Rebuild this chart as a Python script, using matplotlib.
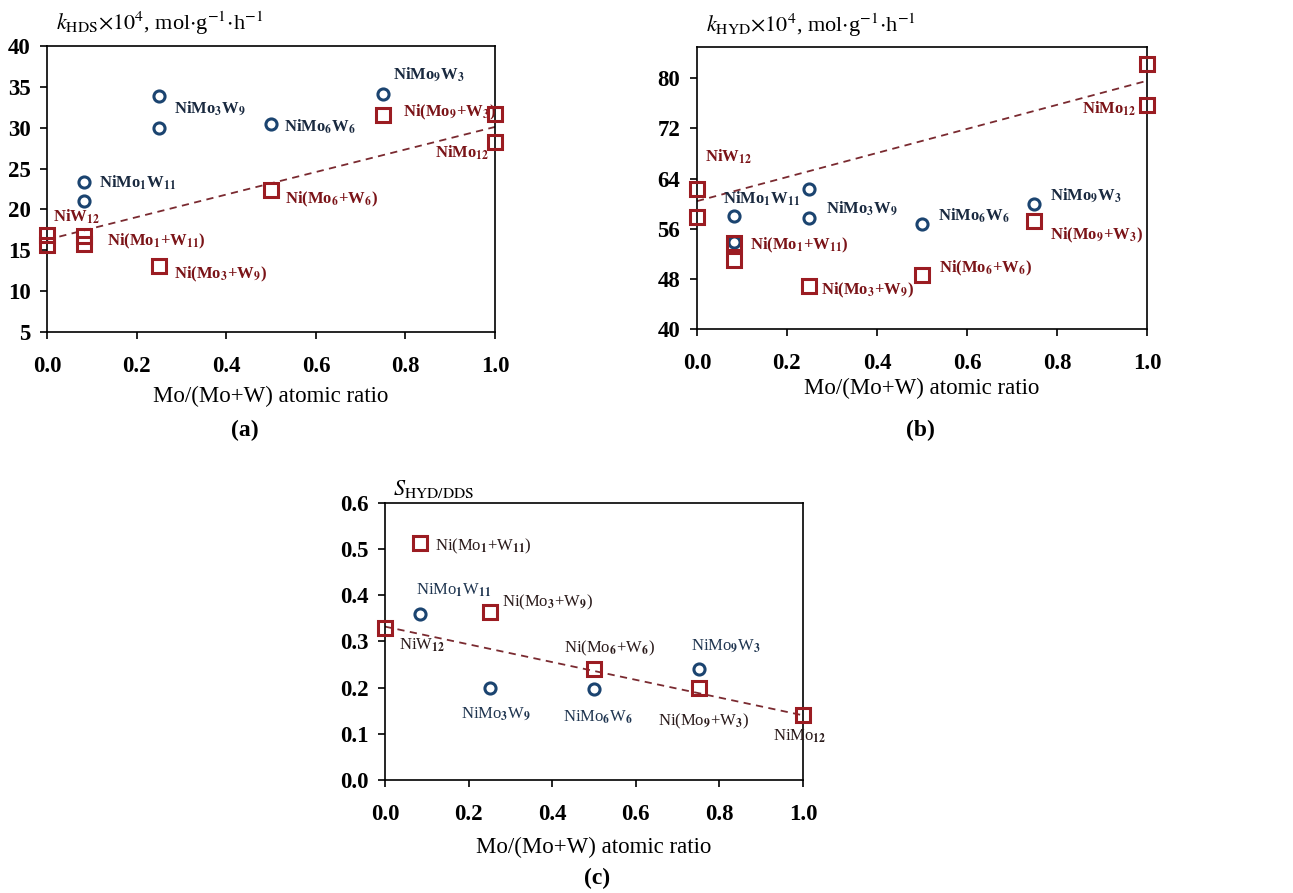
import matplotlib
matplotlib.use("Agg")
import matplotlib.pyplot as plt
import numpy as np

plt.rcParams['font.family'] = ['Liberation Serif', 'DejaVu Serif']
plt.rcParams['mathtext.fontset'] = 'stix'

# Mo/(Mo+W) atomic ratio
x_circ = [0.083, 0.083, 0.25, 0.25, 0.5, 0.75]
x_sq = [0.0, 0.0, 0.083, 0.083, 0.25, 0.5, 0.75, 1.0, 1.0]

# (a) kHDS x 1e4
hds_circ = [23.3, 21.0, 33.9, 30.0, 30.5, 34.1]
hds_sq = [16.9, 15.7, 16.7, 15.8, 13.1, 22.4, 31.5, 31.7, 28.3]
hds_fit = [16.3, 30.1]

# (b) kHYD x 1e4
hyd_circ = [58.1, 53.8, 62.4, 57.7, 56.7, 60.0]
hyd_sq = [62.4, 57.8, 53.7, 51.0, 46.9, 48.6, 57.2, 82.3, 75.7]
hyd_fit = [60.4, 79.6]

# (c) selectivity HYD/DDS
x_c_circ = [0.083, 0.25, 0.5, 0.75]
s_circ = [0.36, 0.20, 0.198, 0.24]
x_c_sq = [0.0, 0.083, 0.25, 0.5, 0.75, 1.0]
s_sq = [0.33, 0.513, 0.364, 0.24, 0.20, 0.14]
s_fit = [0.332, 0.14]

# labels: (text, x, y, is_square_series)
labels_a = [
    (r'NiMo$_\mathbf{9}$W$_\mathbf{3}$', 0.772, 36.4, False),
    (r'NiMo$_\mathbf{3}$W$_\mathbf{9}$', 0.283, 32.3, False),
    (r'NiMo$_\mathbf{6}$W$_\mathbf{6}$', 0.529, 30.1, False),
    (r'NiMo$_\mathbf{1}$W$_\mathbf{11}$', 0.117, 23.2, False),
    (r'NiW$_\mathbf{12}$', 0.013, 19.1, True),
    (r'Ni(Mo$_\mathbf{1}$+W$_\mathbf{11}$)', 0.134, 16.1, True),
    (r'Ni(Mo$_\mathbf{3}$+W$_\mathbf{9}$)', 0.283, 12.0, True),
    (r'Ni(Mo$_\mathbf{6}$+W$_\mathbf{6}$)', 0.531, 21.2, True),
    (r'Ni(Mo$_\mathbf{9}$+W$_\mathbf{3}$)', 0.795, 31.9, True),
    (r'NiMo$_\mathbf{12}$', 0.866, 26.9, True),
]
labels_b = [
    (r'NiW$_\mathbf{12}$', 0.019, 67.4, True),
    (r'NiMo$_\mathbf{12}$', 0.856, 75.1, True),
    (r'NiMo$_\mathbf{1}$W$_\mathbf{11}$', 0.059, 60.7, False),
    (r'NiMo$_\mathbf{3}$W$_\mathbf{9}$', 0.287, 59.2, False),
    (r'NiMo$_\mathbf{6}$W$_\mathbf{6}$', 0.536, 58.0, False),
    (r'NiMo$_\mathbf{9}$W$_\mathbf{3}$', 0.785, 61.3, False),
    (r'Ni(Mo$_\mathbf{1}$+W$_\mathbf{11}$)', 0.117, 53.3, True),
    (r'Ni(Mo$_\mathbf{3}$+W$_\mathbf{9}$)', 0.276, 46.2, True),
    (r'Ni(Mo$_\mathbf{6}$+W$_\mathbf{6}$)', 0.539, 49.7, True),
    (r'Ni(Mo$_\mathbf{9}$+W$_\mathbf{3}$)', 0.785, 55.0, True),
]
labels_c = [
    (r'Ni(Mo$_\mathbf{1}$+W$_\mathbf{11}$)', 0.120, 0.506, True),
    (r'NiMo$_\mathbf{1}$W$_\mathbf{11}$', 0.074, 0.410, False),
    (r'Ni(Mo$_\mathbf{3}$+W$_\mathbf{9}$)', 0.279, 0.384, True),
    (r'NiW$_\mathbf{12}$', 0.034, 0.292, True),
    (r'Ni(Mo$_\mathbf{6}$+W$_\mathbf{6}$)', 0.428, 0.285, True),
    (r'NiMo$_\mathbf{9}$W$_\mathbf{3}$', 0.733, 0.288, False),
    (r'NiMo$_\mathbf{3}$W$_\mathbf{9}$', 0.182, 0.141, False),
    (r'NiMo$_\mathbf{6}$W$_\mathbf{6}$', 0.426, 0.136, False),
    (r'Ni(Mo$_\mathbf{9}$+W$_\mathbf{3}$)', 0.652, 0.126, True),
    (r'NiMo$_\mathbf{12}$', 0.928, 0.095, True),
]

blue = '#1b4470'
red = '#9b1c22'
fitc = '#7a2a30'


def style_axes(ax, ylim, yticks, labelpad):
    ax.set_xlim(0, 1)
    ax.set_ylim(*ylim)
    ax.set_xticks(np.arange(0, 1.01, 0.2))
    ax.set_xticklabels(['%.1f' % v for v in np.arange(0, 1.01, 0.2)],
                       fontsize=16.5, fontweight='bold')
    ax.set_yticks(yticks)
    ax.tick_params(direction='out', length=5, width=1.2)
    ax.tick_params(axis='x', pad=12)
    ax.tick_params(axis='y', pad=7)
    for lab in ax.get_yticklabels():
        lab.set_fontsize(16.5)
        lab.set_fontweight('bold')
    for sp in ax.spines.values():
        sp.set_linewidth(1.2)
    ax.set_xlabel('Mo/(Mo+W) atomic ratio', fontsize=16.5, labelpad=labelpad)


def draw(ax, xc, yc, xs, ys, fit, labels, bold, lab_blue, lab_red, fs):
    ax.plot([0, 1], fit, ls=(0, (4, 3)), color=fitc, lw=1.3, zorder=1)
    ax.plot(xc, yc, 'o', ms=8, mfc='none', mec=blue, mew=2.2, zorder=3,
            clip_on=False)
    ax.plot(xs, ys, 's', ms=9.5, mfc='none', mec=red, mew=2.2, zorder=4,
            clip_on=False)
    for t, x, y, sq in labels:
        ax.text(x, y, t, fontsize=fs, va='center', ha='left',
                fontweight='bold' if bold else 'normal',
                color=lab_red if sq else lab_blue)


fig = plt.figure(figsize=(12.93, 8.93), dpi=100)

ax1 = fig.add_axes([0.0364, 0.6282, 0.3465, 0.3203])
draw(ax1, x_circ, hds_circ, x_sq, hds_sq, hds_fit, labels_a, True,
     '#1a2a40', '#7b1418', 12)
style_axes(ax1, (5, 40), range(5, 41, 5), 7)
ax1.text(0.02, 1.03, r'$k_{\mathrm{HDS}}{\times}10^{4}$, mol$\cdot$g$^{\mathrm{-1}}$$\cdot$h$^{\mathrm{-1}}$',
         transform=ax1.transAxes, fontsize=16, va='bottom')
fig.text(245 / 1293, 1 - 430 / 893, '(a)', fontsize=17, fontweight='bold',
         ha='center', va='center')

ax2 = fig.add_axes([0.539, 0.6316, 0.348, 0.3158])
draw(ax2, x_circ, hyd_circ, x_sq, hyd_sq, hyd_fit, labels_b, True,
     '#1a2a40', '#7b1418', 12)
style_axes(ax2, (40, 85), range(40, 81, 8), 3)
ax2.text(0.02, 1.03, r'$k_{\mathrm{HYD}}{\times}10^{4}$, mol$\cdot$g$^{\mathrm{-1}}$$\cdot$h$^{\mathrm{-1}}$',
         transform=ax2.transAxes, fontsize=16, va='bottom')
fig.text(920 / 1293, 1 - 430 / 893, '(b)', fontsize=17, fontweight='bold',
         ha='center', va='center')

ax3 = fig.add_axes([0.2978, 0.1265, 0.3233, 0.3105])
draw(ax3, x_c_circ, s_circ, x_c_sq, s_sq, s_fit, labels_c, False,
     '#1f3550', '#2a1a1a', 12)
style_axes(ax3, (0, 0.6), np.arange(0, 0.61, 0.1), 9)
ax3.set_yticklabels(['%.1f' % v for v in np.arange(0, 0.61, 0.1)],
                    fontsize=16.5, fontweight='bold')
ax3.text(0.02, 1.01, r'$S_{\mathrm{HYD/DDS}}$',
         transform=ax3.transAxes, fontsize=16, va='bottom')
fig.text(597 / 1293, 1 - 878 / 893, '(c)', fontsize=17, fontweight='bold',
         ha='center', va='center')

fig.savefig('out.png', dpi=100)
